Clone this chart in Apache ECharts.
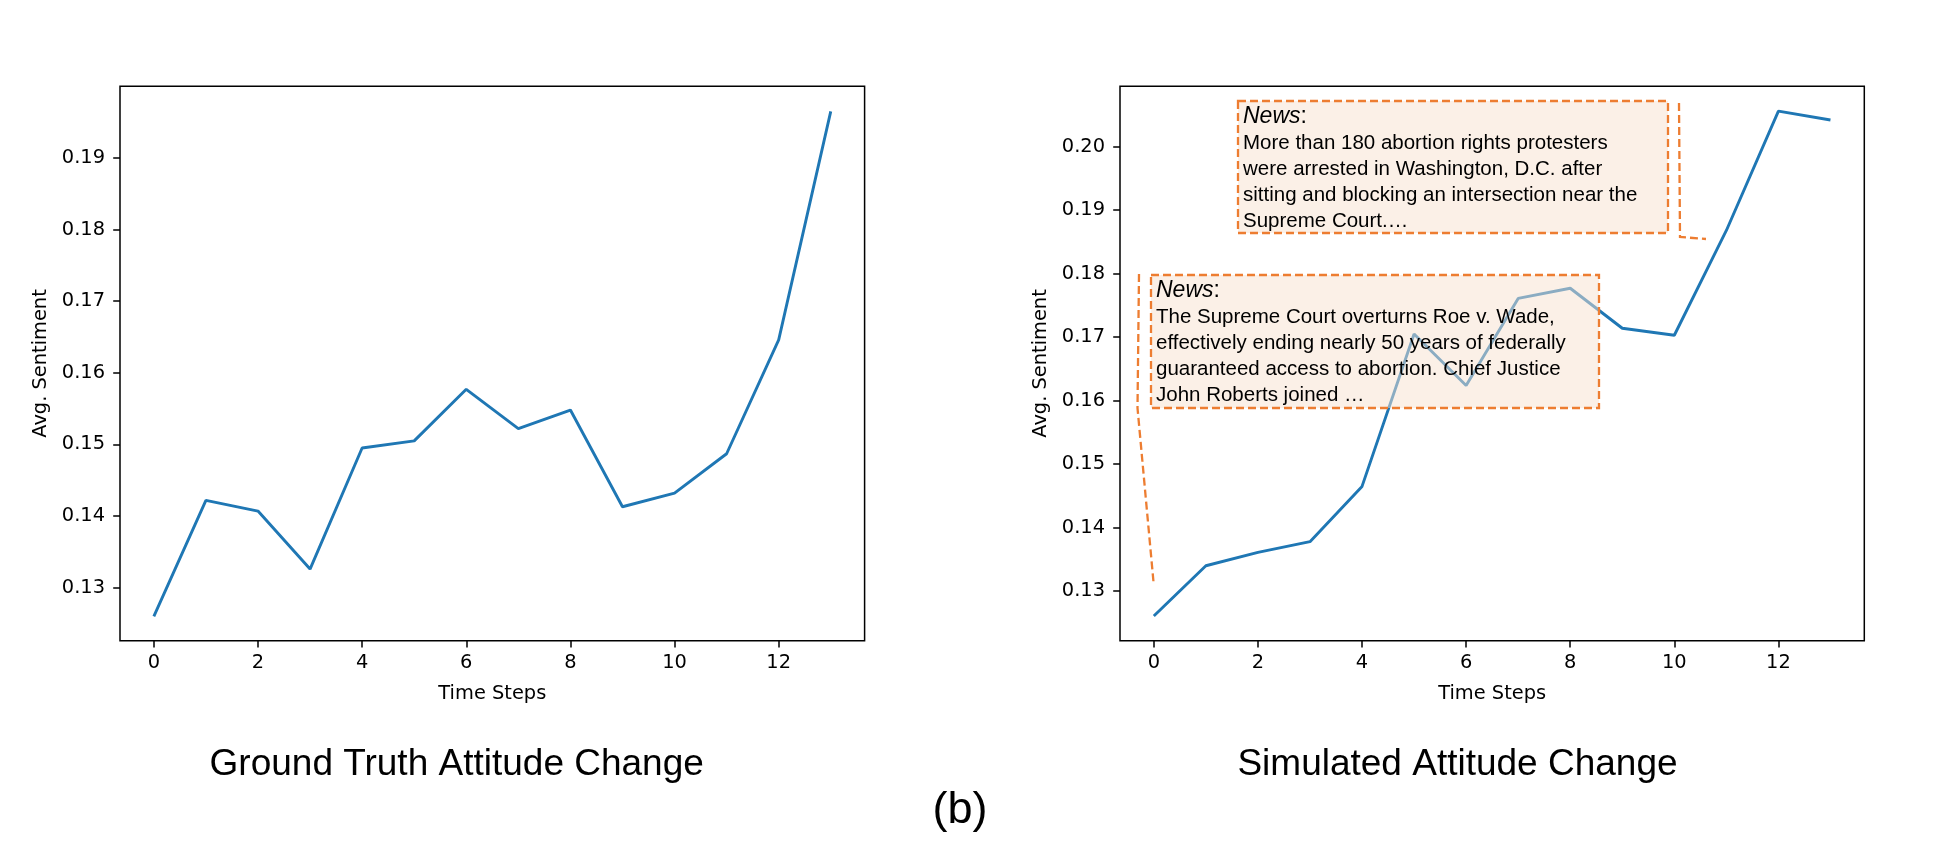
<!DOCTYPE html>
<html>
<head>
<meta charset="utf-8">
<script src="https://cdn.jsdelivr.net/npm/echarts@6/dist/echarts.min.js"></script>
<style>
  html, body { margin: 0; padding: 0; background: #fff; }
  #chart { width: 1960px; height: 865px; }
</style>
</head>
<body>
<div id="chart"></div>
<script>
// ---------------- data ----------------
const steps = [0, 1, 2, 3, 4, 5, 6, 7, 8, 9, 10, 11, 12, 13];
const groundTruth = [0.1260, 0.1422, 0.1407, 0.1326, 0.1495, 0.1505, 0.1577, 0.1522, 0.1548, 0.1413, 0.1432, 0.1487, 0.1646, 0.1965];
const simulated = [0.1261, 0.1340, 0.1361, 0.1378, 0.1465, 0.1705, 0.1624, 0.1761, 0.1777, 0.1714, 0.1703, 0.1868, 0.2056, 0.2042];
const xTicks = [0, 2, 4, 6, 8, 10, 12];
const yTicksLeft = [0.13, 0.14, 0.15, 0.16, 0.17, 0.18, 0.19];
const yTicksRight = [0.13, 0.14, 0.15, 0.16, 0.17, 0.18, 0.19, 0.20];
const panelTitles = ['Ground Truth Attitude Change', 'Simulated Attitude Change'];
const figureLabel = '(b)';
const xName = 'Time Steps';
const yName = 'Avg. Sentiment';
const news1 = ['More than 180 abortion rights protesters', 'were arrested in Washington, D.C. after', 'sitting and blocking an intersection near the', 'Supreme Court.\u2026'];
const news2 = ['The Supreme Court overturns Roe v. Wade,', 'effectively ending nearly 50 years of federally', 'guaranteed access to abortion. Chief Justice', 'John Roberts joined \u2026'];

// ---------------- chart ----------------
const chart = echarts.init(document.getElementById('chart'), null, { renderer: 'canvas' });
const TICK_FONT = 'DejaVu Sans';
const BLUE = '#1f77b4';
const ORANGE = '#ED7D31';

function mkX(gridIndex) {
  return {
    type: 'value', gridIndex: gridIndex, min: -0.65, max: 13.65,
    name: xName, nameLocation: 'middle', nameGap: 44,
    nameTextStyle: { fontFamily: TICK_FONT, fontSize: 19.4, color: '#000' },
    axisLine: { show: false, onZero: false },
    axisTick: { show: true, length: 6.8, customValues: xTicks, lineStyle: { color: '#000', width: 1.5 } },
    axisLabel: { customValues: xTicks, margin: 13, fontFamily: TICK_FONT, fontSize: 19.4, color: '#000' },
    splitLine: { show: false }
  };
}
function mkY(gridIndex, min, max, ticks) {
  return {
    type: 'value', gridIndex: gridIndex, min: min, max: max,
    name: yName, nameLocation: 'middle', nameGap: 70, nameRotate: 90,
    nameTextStyle: { fontFamily: TICK_FONT, fontSize: 19.4, color: '#000' },
    axisLine: { show: false, onZero: false },
    axisTick: { show: true, length: 6.8, customValues: ticks, lineStyle: { color: '#000', width: 1.5 } },
    axisLabel: { customValues: ticks, margin: 15, fontFamily: TICK_FONT, fontSize: 19.4, color: '#000',
                 formatter: v => v.toFixed(2) },
    splitLine: { show: false }
  };
}

function newsText(lines) {
  return '{i|News}{c|:}\n' + lines.join('\n');
}
function newsBox(x, y, w, h, lines) {
  return [
    { type: 'rect', z: 100, shape: { x: x, y: y, width: w, height: h },
      style: { fill: 'rgba(247,225,207,0.5)', stroke: ORANGE, lineWidth: 2.3, lineDash: [8, 4] } },
    { type: 'text', z: 101, x: x + 5, y: y + 2,
      style: { text: newsText(lines), fontFamily: 'Liberation Sans', fontSize: 20.5, lineHeight: 26,
               fill: '#000', align: 'left', verticalAlign: 'top',
               rich: {
                 i: { fontStyle: 'italic', fontFamily: 'Liberation Sans', fontSize: 23, lineHeight: 27, fill: '#000' },
                 c: { fontFamily: 'Liberation Sans', fontSize: 23, lineHeight: 27, fill: '#000' }
               } } }
  ];
}
function connector(points) {
  return { type: 'polyline', z: 102, shape: { points: points },
           style: { fill: null, stroke: ORANGE, lineWidth: 2.3, lineDash: [8, 4] } };
}

const option = {
  animation: false,
  backgroundColor: '#fff',
  grid: [
    { left: 120, top: 86.3, width: 744.6, height: 554.4, show: true, borderColor: '#000', borderWidth: 1.5, backgroundColor: 'transparent' },
    { left: 1120, top: 86.3, width: 744.3, height: 554.4, show: true, borderColor: '#000', borderWidth: 1.5, backgroundColor: 'transparent' }
  ],
  xAxis: [mkX(0), mkX(1)],
  yAxis: [mkY(0, 0.1226, 0.2000, yTicksLeft), mkY(1, 0.1222, 0.2095, yTicksRight)],
  series: [
    { type: 'line', xAxisIndex: 0, yAxisIndex: 0, data: steps.map((s, i) => [s, groundTruth[i]]),
      showSymbol: false, symbol: 'none', lineStyle: { color: BLUE, width: 2.9 }, z: 2 },
    { type: 'line', xAxisIndex: 1, yAxisIndex: 1, data: steps.map((s, i) => [s, simulated[i]]),
      showSymbol: false, symbol: 'none', lineStyle: { color: BLUE, width: 2.9 }, z: 2 }
  ],
  graphic: [
    ...newsBox(1238, 101, 430, 132, news1),
    ...newsBox(1151, 275, 448, 133, news2),
    connector([[1679, 103], [1680, 237], [1706, 239]]),
    connector([[1139, 274], [1137.5, 408], [1153.5, 582]]),
    { type: 'text', x: 456.7, y: 765, style: { text: panelTitles[0], fontFamily: 'Liberation Sans', fontSize: 37, fill: '#000', align: 'center', verticalAlign: 'middle' } },
    { type: 'text', x: 1457.5, y: 765, style: { text: panelTitles[1], fontFamily: 'Liberation Sans', fontSize: 37, fill: '#000', align: 'center', verticalAlign: 'middle' } },
    { type: 'text', x: 960, y: 811, style: { text: figureLabel, fontFamily: 'Liberation Sans', fontSize: 45, fill: '#000', align: 'center', verticalAlign: 'middle' } }
  ]
};
chart.setOption(option);
</script>
</body>
</html>
